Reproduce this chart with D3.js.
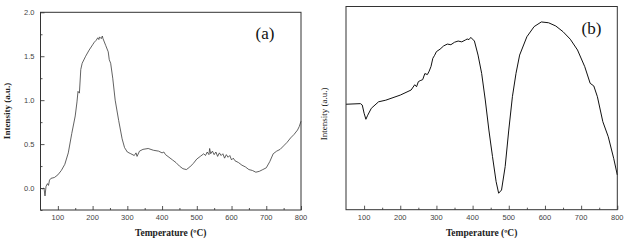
<!DOCTYPE html>
<html>
<head>
<meta charset="utf-8">
<script src="https://cdn.jsdelivr.net/npm/d3@7"></script>
<style>
  body { margin: 0; background: #fff; }
  svg { display: block; }
</style>
</head>
<body>
<div id="chart"></div>
<script>
// panel (a): TPD-like curve, intensity in a.u.
const tempA = [50, 55, 60, 63, 66, 70, 73, 76, 80, 90, 100, 110, 120, 130, 140, 150, 155, 158, 162, 166, 170, 180, 190, 200, 205, 210, 215, 218, 220, 225, 228, 230, 238, 245, 248, 252, 258, 265, 275, 285, 292, 300, 310, 320, 325, 328, 335, 345, 360, 375, 390, 400, 405, 410, 420, 430, 440, 450, 460, 470, 480, 490, 500, 510, 520, 525, 530, 535, 537, 540, 545, 550, 555, 560, 565, 570, 575, 580, 585, 590, 595, 600, 605, 610, 620, 630, 640, 650, 660, 670, 680, 690, 700, 710, 720, 730, 740, 750, 760, 770, 780, 790, 795, 800];
const intensityA = [0.00, -0.01, 0.00, -0.09, 0.02, 0.05, 0.03, 0.09, 0.11, 0.12, 0.15, 0.20, 0.27, 0.40, 0.62, 0.82, 0.98, 1.10, 1.08, 1.35, 1.42, 1.50, 1.57, 1.63, 1.66, 1.68, 1.71, 1.69, 1.72, 1.70, 1.73, 1.70, 1.62, 1.55, 1.46, 1.42, 1.25, 1.00, 0.77, 0.56, 0.46, 0.41, 0.39, 0.37, 0.40, 0.36, 0.42, 0.44, 0.45, 0.43, 0.42, 0.40, 0.41, 0.38, 0.35, 0.32, 0.29, 0.25, 0.22, 0.21, 0.24, 0.28, 0.33, 0.36, 0.39, 0.37, 0.41, 0.38, 0.45, 0.39, 0.42, 0.38, 0.41, 0.36, 0.40, 0.37, 0.39, 0.34, 0.38, 0.35, 0.37, 0.32, 0.34, 0.31, 0.29, 0.26, 0.24, 0.21, 0.20, 0.18, 0.19, 0.21, 0.23, 0.30, 0.39, 0.42, 0.44, 0.48, 0.52, 0.57, 0.61, 0.66, 0.70, 0.76];

// panel (b): no y scale shown, values on a 0-100 relative scale
const tempB = [50, 90, 95, 100, 105, 110, 120, 140, 160, 200, 230, 240, 245, 250, 255, 262, 268, 275, 280, 285, 290, 295, 300, 310, 320, 330, 340, 350, 360, 370, 380, 385, 390, 395, 405, 415, 425, 435, 445, 455, 465, 472, 480, 490, 500, 510, 520, 530, 550, 570, 590, 610, 630, 650, 670, 690, 710, 725, 735, 745, 760, 775, 790, 800];
const intensityB = [51.9, 52.2, 51.5, 47.5, 44.5, 46.5, 49.9, 53.1, 53.9, 56.4, 58.9, 61.5, 60.5, 63.0, 63.5, 64.0, 67.0, 66.5, 68.2, 70.5, 74.5, 76.0, 77.8, 79.0, 80.6, 81.5, 81.2, 82.4, 83.0, 82.6, 83.5, 84.0, 83.7, 84.8, 83.0, 76.1, 67.1, 54.0, 39.2, 26.1, 13.8, 8.1, 9.7, 21.2, 39.2, 55.6, 67.1, 76.1, 85.1, 90.1, 92.4, 92.0, 90.4, 87.6, 83.9, 78.6, 70.4, 62.2, 60.9, 55.6, 43.3, 35.9, 25.3, 17.1];

const xTicks = [100, 200, 300, 400, 500, 600, 700, 800];
const xMinor = [150, 250, 350, 450, 550, 650, 750];
const yTicksA = [0.0, 0.5, 1.0, 1.5, 2.0];
const yMinorA = [-0.25, 0.25, 0.75, 1.25, 1.75];

const W = 625, H = 242;
const svg = d3.select("#chart").append("svg")
    .attr("width", W).attr("height", H);

function drawPanel(p) {
    const x = d3.scaleLinear().domain([50, 800]).range([p.left, p.right]);
    const y = d3.scaleLinear().domain(p.yDomain).range([p.bottom, p.top]);
    const g = svg.append("g");

    // minor ticks first, then major axis
    g.append("g")
        .attr("transform", `translate(0,${p.bottom})`)
        .call(d3.axisTop(x).tickValues(xMinor).tickSize(2).tickFormat(""))
        .call(a => a.select(".domain").remove())
        .call(a => a.selectAll("line").attr("stroke", "#555"));

    g.append("g")
        .attr("transform", `translate(0,${p.bottom})`)
        .call(d3.axisTop(x).tickValues(xTicks).tickSize(4).tickFormat(""))
        .call(a => a.select(".domain").remove())
        .call(a => a.selectAll("line").attr("stroke", "#555"));

    g.append("g").selectAll("text")
        .data(xTicks)
        .join("text")
        .attr("x", d => x(d))
        .attr("y", p.bottom + 10)
        .attr("text-anchor", "middle")
        .style("font-family", "'Liberation Sans', Arial, sans-serif")
        .style("font-size", "7.5px")
        .attr("fill", "#444")
        .text(d => d);

    if (p.showY) {
        g.append("g")
            .attr("transform", `translate(${p.left},0)`)
            .call(d3.axisRight(y).tickValues(yMinorA).tickSize(2).tickFormat(""))
            .call(a => a.select(".domain").remove())
            .call(a => a.selectAll("line").attr("stroke", "#555"));
        g.append("g")
            .attr("transform", `translate(${p.left},0)`)
            .call(d3.axisRight(y).tickValues(yTicksA).tickSize(4).tickFormat(""))
            .call(a => a.select(".domain").remove())
            .call(a => a.selectAll("line").attr("stroke", "#555"));
        g.append("g").selectAll("text")
            .data(yTicksA)
            .join("text")
            .attr("x", p.left - 6)
            .attr("y", d => y(d) + 2.7)
            .attr("text-anchor", "end")
            .style("font-family", "'Liberation Sans', Arial, sans-serif")
            .style("font-size", "7.5px")
            .attr("fill", "#444")
            .text(d => d.toFixed(1));
    }

    const line = d3.line()
        .x(d => x(d[0]))
        .y(d => y(d[1]))
        .curve(d3.curveLinear);

    g.append("path")
        .datum(p.temps.map((t, i) => [t, p.values[i]]))
        .attr("fill", "none")
        .attr("stroke", p.stroke)
        .attr("stroke-width", p.strokeWidth)
        .attr("stroke-linejoin", "round")
        .attr("d", line);

    // frame
    g.append("rect")
        .attr("x", p.left).attr("y", p.top)
        .attr("width", p.right - p.left).attr("height", p.bottom - p.top)
        .attr("fill", "none")
        .attr("stroke", "#333")
        .attr("stroke-width", 1);

    g.append("text")
        .attr("x", (p.left + p.right) / 2)
        .attr("y", p.bottom + 26)
        .attr("text-anchor", "middle")
        .style("font-family", "'Liberation Serif', 'Times New Roman', serif")
        .style("font-weight", "bold")
        .style("font-size", "9.5px")
        .attr("fill", "#222")
        .text("Temperature (\u00baC)");

    g.append("text")
        .attr("transform", `translate(${p.yTitleX},${p.yTitleY}) rotate(-90)`)
        .attr("text-anchor", "middle")
        .style("font-family", "'Liberation Serif', 'Times New Roman', serif")
        .style("font-weight", p.yTitleWeight)
        .style("font-size", "9px")
        .attr("fill", "#222")
        .text("Intensity (a.u.)");

    g.append("text")
        .attr("x", p.labelX)
        .attr("y", p.labelY)
        .attr("text-anchor", "middle")
        .style("font-family", "'Liberation Serif', 'Times New Roman', serif")
        .style("font-size", "17px")
        .attr("fill", "#111")
        .text(p.label);
}

drawPanel({
    left: 40.5, right: 301, top: 12.3, bottom: 210,
    yDomain: [-0.25, 2.0], showY: true,
    temps: tempA, values: intensityA,
    stroke: "#3a3a3a", strokeWidth: 0.8,
    yTitleX: 10, yTitleY: 111, yTitleWeight: "bold",
    label: "(a)", labelX: 265, labelY: 39
});

drawPanel({
    left: 346, right: 617.3, top: 6.5, bottom: 209.7,
    yDomain: [0, 100], showY: false,
    temps: tempB, values: intensityB,
    stroke: "#111", strokeWidth: 1,
    yTitleX: 327, yTitleY: 114, yTitleWeight: "normal",
    label: "(b)", labelX: 591.5, labelY: 34
});
</script>
</body>
</html>
